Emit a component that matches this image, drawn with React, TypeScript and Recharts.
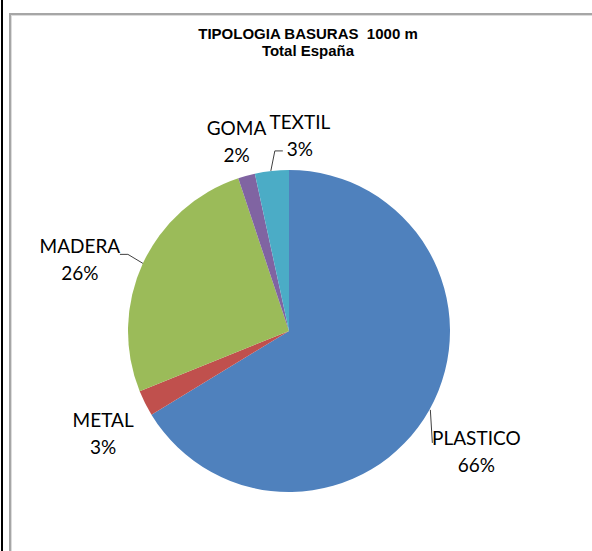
import { PieChart, Pie, Cell } from "recharts";

const categories = ["PLASTICO", "METAL", "MADERA", "GOMA", "TEXTIL"];
const shares = [66.3, 2.6, 26.0, 1.7, 3.4];
const colors = ["#4F81BD", "#C0504D", "#9BBB59", "#8064A2", "#4BACC6"];

const data = categories.map((name, i) => ({ name, value: shares[i] }));

// label text centre relative to the slice's outer edge point, plus leader line shape
const labelOffsets = [
  { dx: 47, dy: 28, leader: "plastico" },
  { dx: -42, dy: 16, leader: "" },
  { dx: -63, dy: -18, leader: "madera" },
  { dx: -10, dy: -48, leader: "" },
  { dx: 28, dy: -49, leader: "textil" },
];

const RAD = Math.PI / 180;
const FONT = "Lato, 'Open Sans', sans-serif";

function renderLabel(props: any) {
  const { cx, cy, midAngle, outerRadius, percent, index, name } = props;
  const ax = cx + outerRadius * Math.cos(-midAngle * RAD);
  const ay = cy + outerRadius * Math.sin(-midAngle * RAD);
  const o = labelOffsets[index];
  const tx = ax + o.dx;
  const ty = ay + o.dy;
  let path = "";
  if (o.leader === "plastico") path = `M${ax + 1},${ay} L${ax + 3},${ty + 5}`;
  if (o.leader === "madera") path = `M${ax},${ay} L${ax - 15},${ay - 9} L${ax - 23},${ay - 9}`;
  if (o.leader === "textil") path = `M${ax - 1},${ay} L${ax + 3},${ay - 20} L${ax + 11},${ay - 20}`;
  return (
    <g key={index}>
      {path && <path d={path} stroke="#404040" strokeWidth={1} fill="none" />}
      <text x={tx} y={ty} textAnchor="middle" dominantBaseline="central" fill="#000" fontSize={19} fontFamily={FONT}>
        {name}
      </text>
      <text x={tx} y={ty + 27} textAnchor="middle" dominantBaseline="central" fill="#000" fontSize={19} fontFamily={FONT}>
        {Math.round(percent * 100)}%
      </text>
    </g>
  );
}

export default function App() {
  return (
    <div style={{ position: "absolute", left: 0, top: 0, width: 592, height: 551, overflow: "hidden", background: "#fff" }}>
      <style>{"body{margin:0}"}</style>
      <div style={{ position: "absolute", left: 1, top: 0, width: 2, height: 551, background: "#000" }} />
      <div
        style={{
          position: "absolute",
          left: 9,
          top: 13,
          width: 620,
          height: 600,
          borderLeft: "2px solid #a6a6a6",
          borderTop: "2px solid #a6a6a6",
          boxShadow: "inset 1px 1px 0 #dcdcdc",
        }}
      />
      <div
        style={{
          position: "absolute",
          left: 158,
          top: 25,
          width: 300,
          textAlign: "center",
          fontFamily: "'Liberation Sans', Arial, sans-serif",
          fontWeight: "bold",
          fontSize: 15,
          lineHeight: "17px",
          color: "#000",
          whiteSpace: "pre",
        }}
      >
        {"TIPOLOGIA BASURAS  1000 m\nTotal España"}
      </div>
      <div style={{ position: "absolute", left: 0, top: 0 }}>
        <PieChart width={592} height={551} margin={{ top: 0, right: 0, bottom: 0, left: 0 }}>
          <Pie
            data={data}
            dataKey="value"
            nameKey="name"
            cx={289}
            cy={331}
            outerRadius={161}
            startAngle={90}
            endAngle={-270}
            stroke="none"
            label={renderLabel}
            labelLine={false}
            isAnimationActive={false}
          >
            {data.map((d, i) => (
              <Cell key={d.name} fill={colors[i]} />
            ))}
          </Pie>
        </PieChart>
      </div>
    </div>
  );
}
